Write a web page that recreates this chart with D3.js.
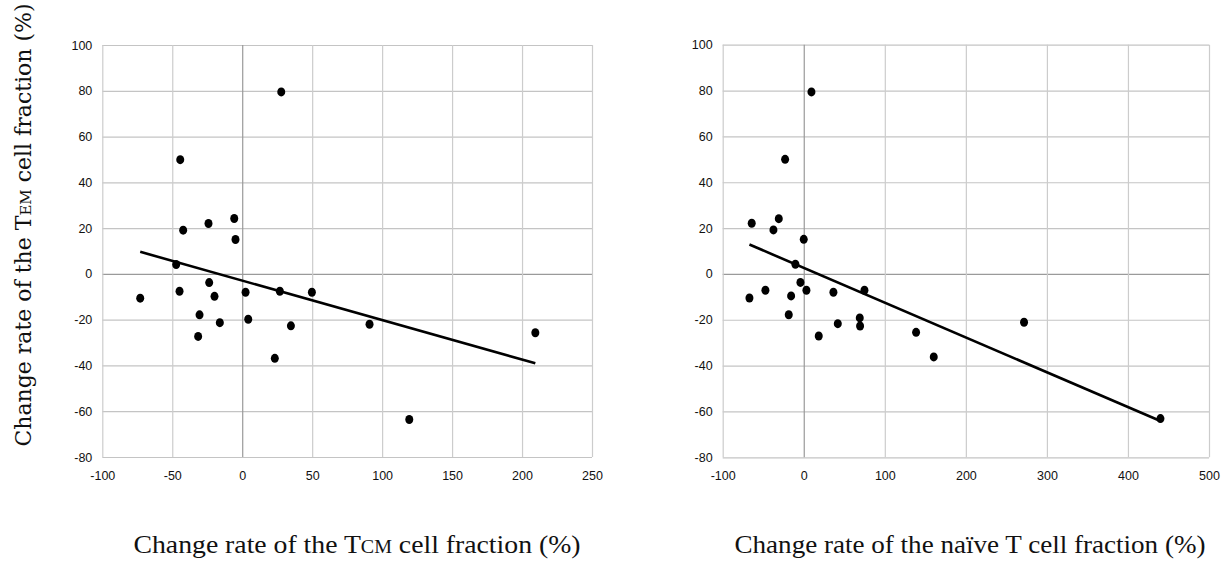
<!DOCTYPE html>
<html>
<head>
<meta charset="utf-8">
<script src="https://cdn.jsdelivr.net/npm/d3@7"></script>
<style>
  body { margin: 0; background: #fff; }
  .tick text { font-family: "Liberation Sans", Arial, sans-serif; font-size: 12.5px; fill: #111; }
</style>
</head>
<body>
<svg width="1221" height="563"></svg>
<script>
// values (change rates in %)
const tcmX   = [27.9, -44.3, -42.2, -24.1, -5.7, -4.8, -47.2, -72.9, -44.8, -23.6, -19.8, -30.5,
                -31.5, -16.0, 2.4, 4.3, 23.3, 26.9, 34.8, 49.8, 91.0, 119.4, 209.5];
const tcmY   = [79.5, 49.9, 19.1, 22.0, 24.2, 15.0, 4.1, -10.6, -7.6, -3.8, -9.8, -17.9,
                -27.3, -21.3, -8.0, -19.8, -36.9, -7.6, -22.7, -8.0, -22.0, -63.6, -25.7];
const naiveX = [9.5, -23.0, -64.2, -30.8, -37.4, 0.0, -10.3, -67.0, -47.3, -4.1, -15.6, 3.3,
                -18.5, 18.5, 36.6, 42.0, 69.1, 69.5, 74.9, 138.6, 160.4, 271.8, 440.1];
const naiveY = [79.4, 50.0, 22.1, 24.1, 19.2, 15.1, 4.2, -10.5, -7.1, -3.7, -9.6, -7.1,
                -17.8, -27.1, -8.0, -21.7, -19.2, -22.7, -7.1, -25.5, -36.2, -21.1, -63.1];

const yTicks     = [-80, -60, -40, -20, 0, 20, 40, 60, 80, 100];
const tcmTicks   = [-100, -50, 0, 50, 100, 150, 200, 250];
const naiveTicks = [-100, 0, 100, 200, 300, 400, 500];

const yTitle = ["Change rate of the T", "EM", " cell fraction (%)"];
const tcmTitle = ["Change rate of the T", "CM", " cell fraction (%)"];
const naiveTitle = ["Change rate of the naïve T cell fraction (%)", "", ""];

const svg = d3.select("svg");

// least squares line, drawn between min and max x like the spreadsheet trendline
function fit(xs, ys) {
  const mx = d3.mean(xs), my = d3.mean(ys);
  let sxy = 0, sxx = 0;
  xs.forEach((x, i) => { sxy += (x - mx) * (ys[i] - my); sxx += (x - mx) * (x - mx); });
  const b = sxy / sxx, a = my - b * mx;
  return d3.extent(xs).map(x => [x, a + b * x]);
}

function panel(xs, ys, xTicks, box, title) {
  const x = d3.scaleLinear().domain(d3.extent(xTicks)).range([box.left, box.right]);
  const y = d3.scaleLinear().domain(d3.extent(yTicks)).range([box.bottom, box.top]);
  const g = svg.append("g");

  // horizontal grid + y labels
  const ya = g.append("g")
    .attr("transform", `translate(${box.left},0)`)
    .call(d3.axisLeft(y).tickValues(yTicks).tickSize(-(box.right - box.left))
      .tickPadding(10).tickFormat(d => String(d)));
  ya.select(".domain").remove();
  ya.selectAll(".tick line").attr("stroke", d => d === 0 ? "#9a9a9a" : "#c4c4c4").attr("stroke-width", 1.2);

  // vertical grid + x labels
  const xa = g.append("g")
    .attr("transform", `translate(0,${box.bottom})`)
    .call(d3.axisBottom(x).tickValues(xTicks).tickSize(-(box.bottom - box.top))
      .tickPadding(14).tickFormat(d => String(d)));
  xa.select(".domain").remove();
  xa.selectAll(".tick line").attr("stroke", d => d === 0 ? "#9a9a9a" : "#cccccc").attr("stroke-width", 1.2);

  // trend line
  g.append("path")
    .datum(fit(xs, ys))
    .attr("d", d3.line().x(d => x(d[0])).y(d => y(d[1])))
    .attr("fill", "none")
    .attr("stroke", "#000")
    .attr("stroke-width", 2.6);

  // points
  g.append("g").selectAll("ellipse")
    .data(xs.map((v, i) => [v, ys[i]]))
    .join("ellipse")
      .attr("cx", d => x(d[0]))
      .attr("cy", d => y(d[1]))
      .attr("rx", 4)
      .attr("ry", 4.5)
      .attr("fill", "#000");

  // x axis title
  const t = svg.append("text")
    .attr("x", box.titleX)
    .attr("y", 553)
    .attr("text-anchor", "middle")
    .attr("textLength", box.titleW)
    .attr("lengthAdjust", "spacingAndGlyphs")
    .style("font-family", "'Liberation Serif', 'Times New Roman', serif")
    .style("font-size", "25px")
    .attr("fill", "#111");
  t.append("tspan").text(title[0]);
  if (title[1]) t.append("tspan").style("font-size", "18px").text(title[1]);
  if (title[2]) t.append("tspan").text(title[2]);
}

panel(tcmX, tcmY, tcmTicks, {left: 102.3, right: 592, top: 45, bottom: 457, titleX: 357, titleW: 447}, tcmTitle);
panel(naiveX, naiveY, naiveTicks, {left: 722.7, right: 1209, top: 44.7, bottom: 457.3, titleX: 970, titleW: 471}, naiveTitle);

// shared y axis title
const yt = svg.append("text")
  .attr("transform", "translate(31,225) rotate(-90)")
  .attr("text-anchor", "middle")
  .style("font-family", "'DejaVu Serif', Georgia, serif")
  .style("font-size", "22px")
  .attr("fill", "#111");
yt.append("tspan").text(yTitle[0]);
yt.append("tspan").style("font-size", "15px").text(yTitle[1]);
yt.append("tspan").text(yTitle[2]);
</script>
</body>
</html>
